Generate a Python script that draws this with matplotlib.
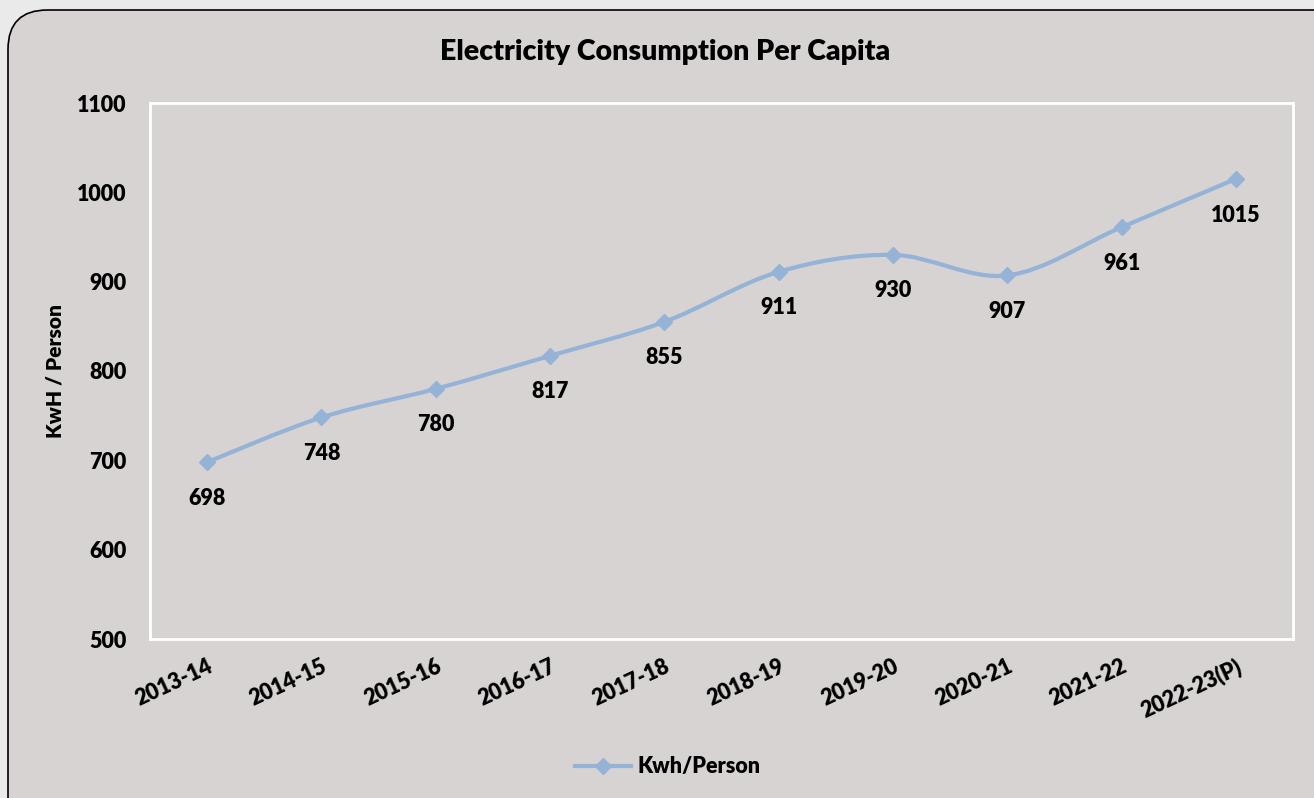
import matplotlib.pyplot as plt
import numpy as np
from matplotlib.path import Path
from matplotlib.patches import PathPatch, FancyBboxPatch
from matplotlib.lines import Line2D

plt.rcParams['font.family'] = ['Lato', 'DejaVu Sans']
W = 'heavy'
plt.rcParams['font.weight'] = W

years = ['2013-14', '2014-15', '2015-16', '2016-17', '2017-18',
         '2018-19', '2019-20', '2020-21', '2021-22', '2022-23(P)']
kwh = [698, 748, 780, 817, 855, 911, 930, 907, 961, 1015]

line_color = '#95B3D7'
bg = '#D6D3D2'

fig = plt.figure(figsize=(13.14, 7.98), dpi=100)
fig.patch.set_facecolor('#EBEAEA')

# rounded chart frame
frame = FancyBboxPatch((8 / 1314, -0.05), 1.2, 1.0 - 10 / 798 + 0.05,
                       boxstyle='round,pad=0,rounding_size=0.03',
                       transform=fig.transFigure, facecolor=bg, zorder=-10,
                       edgecolor='black', linewidth=1.2, mutation_aspect=1314 / 798)
fig.patches.append(frame)

ax = fig.add_axes([150 / 1314, 1 - 639 / 798, 1143 / 1314, 536 / 798])
ax.set_facecolor(bg)
for s in ax.spines.values():
    s.set_color('white')
    s.set_linewidth(2)

x = np.arange(len(years))
y = np.array(kwh, dtype=float)

# smoothed line like Excel (bezier through the points)
verts = [(x[0], y[0])]
codes = [Path.MOVETO]
n = len(x)
for i in range(n - 1):
    p0 = (x[i - 1], y[i - 1]) if i > 0 else (x[i], y[i])
    p1 = (x[i], y[i])
    p2 = (x[i + 1], y[i + 1])
    p3 = (x[i + 2], y[i + 2]) if i + 2 < n else p2
    c1 = (p1[0] + (p2[0] - p0[0]) / 6, p1[1] + (p2[1] - p0[1]) / 6)
    c2 = (p2[0] - (p3[0] - p1[0]) / 6, p2[1] - (p3[1] - p1[1]) / 6)
    verts += [c1, c2, p2]
    codes += [Path.CURVE4] * 3
ax.add_patch(PathPatch(Path(verts, codes), facecolor='none',
                       edgecolor=line_color, linewidth=3, capstyle='round'))
ax.plot(x, y, linestyle='none', marker='D', markersize=8, color=line_color)

for xi, yi in zip(x, kwh):
    ax.annotate(str(yi), (xi, yi), xytext=(0, -26), textcoords='offset points',
                ha='center', va='center', fontsize=15.5, fontweight=W)

ax.set_xlim(-0.5, len(years) - 0.5)
ax.set_ylim(500, 1100)
ax.set_yticks(range(500, 1101, 100))
ax.set_xticks(x)
ax.set_xticklabels(years, rotation=25, ha='right', rotation_mode='anchor')
ax.tick_params(length=0, labelsize=15.5)
for lab in ax.get_xticklabels() + ax.get_yticklabels():
    lab.set_fontweight(W)
ax.tick_params(axis='x', pad=12)
ax.tick_params(axis='y', pad=17)
ax.set_ylabel('KwH / Person', fontsize=15, fontweight=W, labelpad=9)

fig.text(665 / 1314, 1 - 52 / 798, 'Electricity Consumption Per Capita',
         ha='center', va='center', fontsize=20.5, fontweight=W)

handle = Line2D([], [], color=line_color, linewidth=3, marker='D', markersize=8)
fig.legend([handle], ['Kwh/Person'], loc='center', bbox_to_anchor=(668 / 1314, 1 - 767 / 798),
           frameon=False, handlelength=2.6, handletextpad=0.3,
           prop={'weight': W, 'size': 15.5})

fig.savefig('out.png', dpi=100, facecolor=fig.get_facecolor())
